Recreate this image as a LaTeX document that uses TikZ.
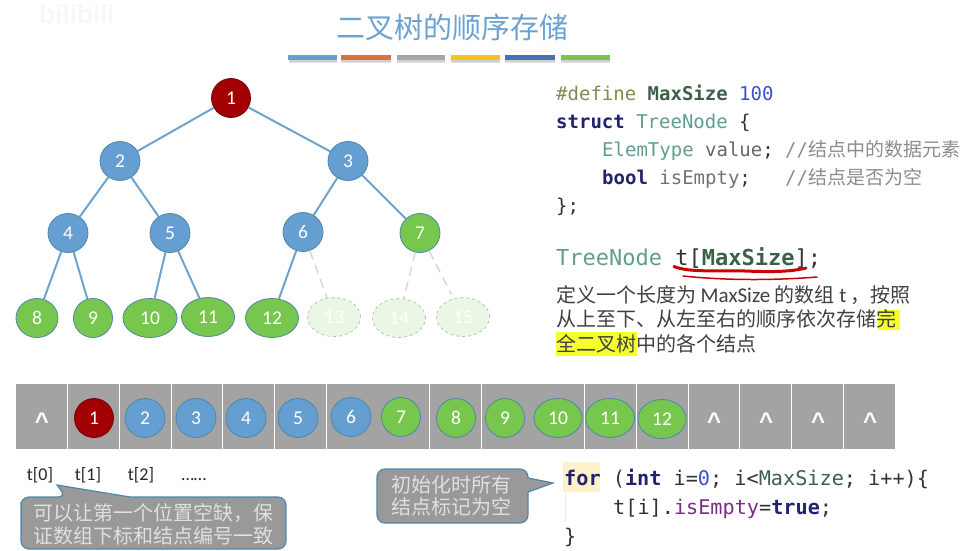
\documentclass[tikz,border=0pt]{standalone}
\usepackage{fontspec}
\usetikzlibrary{shapes.geometric}
\setmainfont{Carlito}
\setmonofont{DejaVu Sans Mono}
\newfontfamily\cjk{Noto Sans CJK SC}
\newfontfamily\heavy{Liberation Sans}[BoldFont={Liberation Sans Bold}]
\definecolor{nred}{HTML}{A30006}
\definecolor{nblue}{HTML}{659FD1}
\definecolor{ngreen}{HTML}{77C74F}
\definecolor{edgeb}{HTML}{6FA3CC}
\definecolor{nborder}{HTML}{4F86A8}
\definecolor{cellg}{HTML}{A3A3A3}
\definecolor{titleb}{HTML}{6CA2D0}
\definecolor{cdolive}{HTML}{7F8C50}
\definecolor{cdgreen}{HTML}{3C6048}
\definecolor{cdblue}{HTML}{3A50D0}
\definecolor{cdnavy}{HTML}{22226E}
\definecolor{cdteal}{HTML}{5F9E8E}
\definecolor{cdgrey}{HTML}{8C8C8C}
\definecolor{cddark}{HTML}{333333}
\definecolor{cdpurple}{HTML}{76307F}
\definecolor{baror}{HTML}{DB7240}
\definecolor{baryl}{HTML}{F3C41E}
\definecolor{barbl}{HTML}{4A6FB5}
\definecolor{hilite}{HTML}{F6FF2E}
\newcommand{\kw}[1]{\textcolor{cdnavy}{\textbf{#1}}}
\newcommand{\ms}[1]{\textcolor{cdgreen}{\textbf{#1}}}
\newcommand{\tn}[1]{\textcolor{cdteal}{#1}}
\newcommand{\cm}[1]{\textcolor{cdgrey}{#1}}
\tikzset{
  tnode/.style={ellipse,draw=nborder,line width=0.8pt,inner sep=0pt,text=white,
     minimum height=39pt,font=\fontsize{19.5}{19.5}\selectfont},
  rednode/.style={tnode,fill=nred,draw=nred!70!black,minimum width=39pt},
  bluenode/.style={tnode,fill=nblue,minimum width=40pt},
  greennode/.style={tnode,fill=ngreen},
  ghost/.style={tnode,fill=ngreen!15,draw=black!25,dashed,text=white,minimum width=53pt},
  tedge/.style={draw=edgeb,line width=2pt},
  gedge/.style={draw=black!16,line width=1.5pt,dash pattern=on 9pt off 6pt},
  cell/.style={rectangle,fill=cellg,draw=none,minimum width=50.9pt,minimum height=65.5pt,inner sep=0pt},
  nulltxt/.style={text=white,font=\heavy\bfseries\fontsize{24}{24}\selectfont,inner sep=0pt},
  bar/.style={line width=5pt,line cap=butt},
  code/.style={anchor=base west,inner sep=0pt,text=cddark,font=\ttfamily\fontsize{19}{19}\selectfont},
  bigcode/.style={code,font=\ttfamily\fontsize{22}{22}\selectfont},
  forcode/.style={code,font=\ttfamily\fontsize{20.2}{20.2}\selectfont},
  desc/.style={anchor=base west,inner sep=0pt,text=black!75,font=\cjk\fontsize{20}{20}\selectfont},
  idx/.style={anchor=base,inner sep=0pt,text=black!85,font=\fontsize{18}{18}\selectfont},
  callout/.style={fill=black!40,draw=nborder,line width=1.2pt,rounded corners=8pt},
  ctext/.style={anchor=base west,inner sep=0pt,text=black!12,font=\cjk\fontsize{20}{20}\selectfont},
}
\begin{document}
\begin{tikzpicture}[x=1pt,y=-1pt]
\useasboundingbox (0,0) rectangle (964,550);
% watermark
\node[anchor=center,text=black!3,font=\heavy\bfseries\fontsize{26}{26}\selectfont,inner sep=0pt] (mark) at (77,14) {bilibili};
% title
\node[text=titleb,font=\cjk\fontsize{29}{29}\selectfont,inner sep=0pt] (title) at (452,27) {二叉树的顺序存储};
\fill[black!18] (289,58) rectangle (337,62.5) (341,58) rectangle (391,62.5) (397,58) rectangle (445,62.5)
  (451,58) rectangle (500,62.5) (505,58) rectangle (555,62.5) (561,58) rectangle (610,62.5);
\draw[bar,draw=nblue] (288,57.5) -- (337,57.5);
\draw[bar,draw=baror] (341,57.5) -- (391,57.5);
\draw[bar,draw=black!35] (397,57.5) -- (445,57.5);
\draw[bar,draw=baryl] (451,57.5) -- (500,57.5);
\draw[bar,draw=barbl] (505,57.5) -- (555,57.5);
\draw[bar,draw=ngreen] (561,57.5) -- (610,57.5);
% tree
\node[rednode]  (n1) at (231,98)  {1};
\node[bluenode] (n2) at (120,161) {2};
\node[bluenode] (n3) at (348,161) {3};
\node[bluenode] (n4) at (68,233)  {4};
\node[bluenode] (n5) at (170,233) {5};
\node[bluenode] (n6) at (303,232) {6};
\node[greennode,minimum width=40pt] (n7) at (420,233) {7};
\node[greennode,minimum width=42pt] (n8) at (37,318) {8};
\node[greennode,minimum width=39pt] (n9) at (93,318) {9};
\node[greennode,minimum width=54pt] (n10) at (150,318) {10};
\node[greennode,minimum width=53pt] (n11) at (208,317) {11};
\node[greennode,minimum width=53pt] (n12) at (272,318) {12};
\node[ghost] (n13) at (334,317) {13};
\node[ghost] (n14) at (399,318) {14};
\node[ghost] (n15) at (463,317) {15};
\draw[tedge] (n1)--(n2) (n1)--(n3) (n2)--(n4) (n2)--(n5) (n3)--(n6) (n3)--(n7)
  (n4)--(n8) (n4)--(n9) (n5)--(n10) (n5)--(n11) (n6)--(n12);
\draw[gedge,shorten >=5pt] (n6)--(n13) (n7)--(n14) (n7)--(n15);
% array
\foreach \i [evaluate=\i as \cx using {16+25.85+51.7*\i}] in {0,...,16}{
  \node[cell] (c\i) at (\cx,416.5) {};
}
\node[nulltxt] (z0) at (42,421) {\textasciicircum};
\node[nulltxt] (z1) at (714,421) {\textasciicircum};
\node[nulltxt] (z2) at (766,421) {\textasciicircum};
\node[nulltxt] (z3) at (818,421) {\textasciicircum};
\node[nulltxt] (z4) at (870,421) {\textasciicircum};
\node[rednode]  (a1) at (94,418) {1};
\node[bluenode] (a2) at (145,418) {2};
\node[bluenode] (a3) at (196,418) {3};
\node[bluenode] (a4) at (246,418) {4};
\node[bluenode] (a5) at (298,418) {5};
\node[bluenode] (a6) at (351,417) {6};
\node[greennode,minimum width=39pt] (a7) at (401,417) {7};
\node[greennode,minimum width=39pt] (a8) at (456,418) {8};
\node[greennode,minimum width=39pt] (a9) at (505,418) {9};
\node[greennode,minimum width=48pt] (a10) at (558,418) {10};
\node[greennode,minimum width=49pt] (a11) at (610,418) {11};
\node[greennode,minimum width=48pt] (a12) at (662,419) {12};
% indices
\node[idx] (i0) at (40,480) {t[0]};
\node[idx] (i1) at (88,480) {t[1]};
\node[idx] (i2) at (141,480) {t[2]};
\node[idx] (i3) at (194,480) {……};
% callouts
\draw[callout] (21,510) [sharp corners] -- (21,510) [rounded corners=8pt] -- (21,497) -- (66,497) [sharp corners] -- (57,485) -- (130,497) [rounded corners=8pt] -- (286,497) -- (286,549) -- (21,549) -- cycle;
\node[ctext] (k1) at (33,520) {可以让第一个位置空缺，保};
\node[ctext] (k2) at (33,543) {证数组下标和结点编号一致};
\draw[callout] (377,490) [rounded corners=8pt] -- (377,469) -- (528,469) [sharp corners] -- (528,478) -- (553,483) -- (528,492) [rounded corners=8pt] -- (528,523) -- (377,523) -- cycle;
\node[ctext] (k3) at (391,492) {初始化时所有};
\node[ctext] (k4) at (391,514) {结点标记为空};
% code top
\node[code] (l1) at (556,100) {\textcolor{cdolive}{\#define} \ms{MaxSize} \textcolor{cdblue}{100}};
\node[code] (l2) at (556,128) {\kw{struct} \tn{TreeNode} \{};
\node[code] (l3) at (602,156) {\tn{ElemType} \textcolor{black!60}{value}; \cm{//{\cjk 结点中的数据元素}}};
\node[code] (l4) at (602,184) {\kw{bool} \textcolor{black!55}{isEmpty};~~~\cm{//{\cjk 结点是否为空}}};
\node[code] (l5) at (556,212) {\};};
\node[bigcode] (l6) at (556,265) {\tn{TreeNode} t[\ms{MaxSize}];};
\draw[red!80!black,line width=3pt,line cap=round] (674,266.5) .. controls (690,273) and (720,270) .. (745,271) .. controls (770,272) and (790,272) .. (806,268);
\draw[red!80!black,line width=1.5pt,line cap=round] (683,276) .. controls (730,281) and (780,280) .. (817,277);
% description
\fill[hilite] (878,310) rectangle (900,330) (556,332) rectangle (637,356);
\node[desc] (d1) at (556,302) {定义一个长度为 {\rmfamily\fontsize{21}{21}\selectfont MaxSize} 的数组 {\rmfamily\fontsize{21}{21}\selectfont t} ，按照};
\node[desc] (d2) at (556,326) {从上至下、从左至右的顺序依次存储完};
\node[desc] (d3) at (556,351) {全二叉树中的各个结点};
% for loop
\fill[yellow!50!orange!18] (563,462) rectangle (600,492);
\draw[black!8,line width=1pt] (565,492) -- (565,522);
\node[forcode] (f1) at (564,485) {\kw{for} (\kw{int} i=\textcolor{cdblue}{0}; i<\textcolor{cdgreen}{MaxSize}; i++)\{};
\node[forcode] (f2) at (613,514) {t[i].\textcolor{cdpurple}{isEmpty}=\kw{true};};
\node[forcode] (f3) at (564,543) {\}};
\end{tikzpicture}
\end{document}
